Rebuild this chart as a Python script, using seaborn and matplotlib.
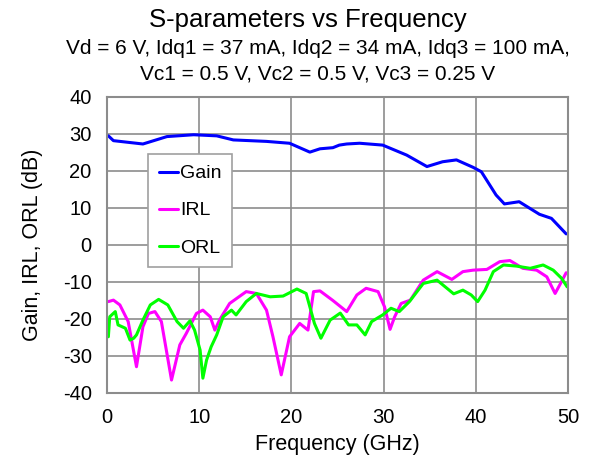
import pandas as pd
import matplotlib
matplotlib.use('Agg')
import matplotlib.pyplot as plt
import seaborn as sns

# values (GHz, dB)
gain_f = [0.15, 0.7, 3.9, 6.5, 9.4, 11.9, 13.7, 17.3, 19.8, 22.0, 23.1, 24.5, 25.2, 26.0,
          27.4, 29.9, 32.5, 34.7, 36.4, 37.9, 39.7, 40.6, 42.2, 43.1, 44.7, 46.9, 48.2, 49.8]
gain_db = [29.5, 28.2, 27.3, 29.3, 29.8, 29.5, 28.4, 28.0, 27.5, 25.1, 26.0, 26.3, 27.0, 27.3,
           27.5, 27.0, 24.3, 21.2, 22.5, 23.0, 21.0, 19.8, 13.5, 11.1, 11.7, 8.3, 7.2, 3.0]

irl_f = [0.15, 0.7, 1.4, 2.3, 3.2, 3.9, 4.5, 5.2, 5.9, 7.0, 7.9, 8.6, 9.7, 10.4, 11.2, 11.7,
         12.2, 13.3, 15.1, 16.2, 17.3, 18.0, 18.9, 19.8, 20.9, 21.8, 22.4, 23.1, 24.5, 26.0,
         27.1, 28.1, 29.4, 30.1, 30.7, 31.2, 31.9, 32.9, 34.3, 35.8, 37.4, 38.6, 39.7, 41.2,
         42.6, 43.7, 45.1, 46.6, 47.7, 48.6, 49.1, 49.8]
irl_db = [-15.3, -14.9, -16.2, -20.7, -32.9, -22.1, -18.5, -18.0, -20.7, -36.5, -27.0, -23.9,
          -18.5, -17.6, -19.4, -23.0, -20.3, -15.8, -12.6, -13.1, -17.6, -24.8, -35.1, -24.8,
          -21.2, -23.0, -12.6, -12.4, -15.0, -18.0, -13.5, -11.7, -12.6, -16.7, -22.8, -19.4,
          -15.8, -14.9, -9.5, -7.2, -9.3, -7.2, -6.8, -6.6, -4.5, -4.2, -6.3, -6.8, -8.6,
          -13.1, -10.8, -7.5]

orl_f = [0.15, 0.3, 0.9, 1.2, 2.0, 2.5, 2.9, 3.2, 3.9, 4.7, 5.6, 6.6, 7.6, 8.3, 9.0, 9.5,
         10.1, 10.4, 10.8, 11.3, 11.9, 12.6, 13.5, 14.0, 15.1, 16.2, 17.7, 19.1, 20.6, 21.6,
         22.5, 23.2, 24.2, 25.3, 26.2, 27.1, 28.0, 28.7, 29.9, 30.8, 31.7, 32.8, 34.3, 35.8,
         37.6, 38.6, 39.5, 40.2, 41.0, 41.9, 43.0, 44.4, 45.9, 47.3, 48.4, 49.3, 49.9]
orl_db = [-24.8, -19.4, -18.0, -21.6, -22.5, -25.7, -25.2, -24.3, -20.3, -16.2, -14.7, -16.2,
          -20.7, -22.5, -20.5, -23.0, -28.4, -36.0, -31.1, -27.5, -24.3, -19.4, -17.6, -18.9,
          -15.3, -13.1, -14.0, -13.8, -11.9, -13.1, -21.2, -25.2, -20.3, -18.4, -21.6, -21.6,
          -24.3, -20.7, -18.9, -17.1, -18.0, -15.3, -10.4, -9.5, -13.2, -12.2, -13.5, -15.3,
          -12.2, -7.2, -5.4, -5.7, -6.3, -5.4, -6.8, -9.0, -11.3]

df = pd.concat([
    pd.DataFrame({'Frequency': gain_f, 'dB': gain_db, 'Trace': 'Gain'}),
    pd.DataFrame({'Frequency': irl_f, 'dB': irl_db, 'Trace': 'IRL'}),
    pd.DataFrame({'Frequency': orl_f, 'dB': orl_db, 'Trace': 'ORL'}),
])

sns.set_style('white')
plt.rcParams['font.family'] = ['Liberation Sans', 'DejaVu Sans']
plt.rcParams['axes.unicode_minus'] = False
plt.rcParams['text.color'] = 'black'
plt.rcParams['axes.labelcolor'] = 'black'
plt.rcParams['xtick.color'] = 'black'
plt.rcParams['ytick.color'] = 'black'

fig = plt.figure(figsize=(5.92, 4.63), dpi=100)
ax = fig.add_axes([0.1807, 0.1512, 0.7788, 0.6393])

sns.lineplot(data=df, x='Frequency', y='dB', hue='Trace', sort=False, estimator=None,
             palette={'Gain': '#0000FF', 'IRL': '#FF00FF', 'ORL': '#00FF00'},
             linewidth=2.2, ax=ax)

ax.set_xlim(0, 50)
ax.set_ylim(-40, 40)
ax.set_xticks(range(0, 51, 10))
ax.set_yticks(range(-40, 41, 10))
ax.grid(True, color='#8c8c8c', linewidth=1.2)
for s in ax.spines.values():
    s.set_color('#8c8c8c')
    s.set_linewidth(1.5)
ax.tick_params(labelsize=14.5, length=0, pad=11)
ax.set_xlabel('Frequency (GHz)', fontsize=15.5, labelpad=5)
ax.set_ylabel('Gain, IRL, ORL (dB)', fontsize=15.5, labelpad=14)

leg = ax.legend(loc='upper left', bbox_to_anchor=(0.089, 0.807), borderaxespad=0,
                fontsize=14, handlelength=1.0, handletextpad=0.1, labelspacing=1.0,
                fancybox=False, framealpha=1, borderpad=0.55)
leg.get_frame().set_edgecolor('#a0a0a0')
leg.get_frame().set_linewidth(1.2)

fig.text(0.52, 0.957, 'S-parameters vs Frequency', ha='center', va='center', fontsize=18.5)
fig.text(0.537, 0.895, 'Vd = 6 V, Idq1 = 37 mA, Idq2 = 34 mA, Idq3 = 100 mA,',
         ha='center', va='center', fontsize=15)
fig.text(0.537, 0.84, 'Vc1 = 0.5 V, Vc2 = 0.5 V, Vc3 = 0.25 V',
         ha='center', va='center', fontsize=15)

fig.savefig('out.png', dpi=100)
